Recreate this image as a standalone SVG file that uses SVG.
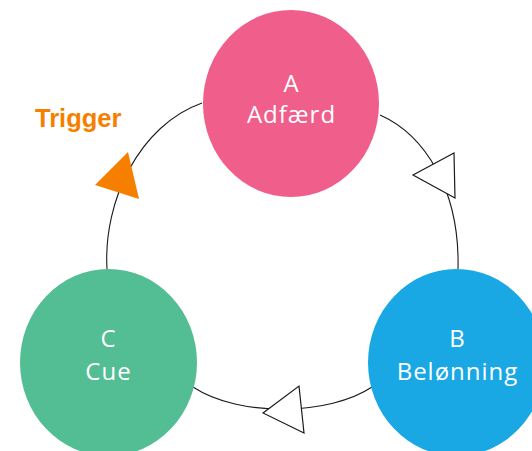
<svg xmlns="http://www.w3.org/2000/svg" width="532" height="451" viewBox="0 0 532 451">
<style>
.edge{fill:none;stroke:#1a1a1a;stroke-width:1.1}
.head{fill:#ffffff;stroke:#1a1a1a;stroke-width:1.2;stroke-linejoin:miter}
.lbl{font-family:"Open Sans","Liberation Sans",sans-serif;font-size:24px;letter-spacing:1px;fill:#ffffff;text-anchor:middle}
.trig{font-family:"Liberation Sans",Arial,sans-serif;font-weight:bold;font-size:25.5px;fill:#F77F00}
</style>
<rect width="532" height="451" fill="#ffffff"/>
<g id="connectors">
<path class="edge" d="M107,269 C103,200 140,125 202,103"/>
<path class="edge" d="M380,115 C425,135 460,190 458,269"/>
<path class="edge" d="M372,387 C330,415 240,418 193,387"/>
<polygon points="128,152 95,185 139,199" fill="#F77F00"/>
<polygon class="head" points="413,175 454,153 455,198"/>
<polygon class="head" points="263,413 299,386 304,433"/>
</g>
<g id="trigger">
<text class="trig" x="35" y="127">Trigger</text>
</g>
<g id="nodeA">
<ellipse cx="291" cy="103.5" rx="88" ry="93.5" fill="#F05E8B"/>
<text class="lbl" x="291.5" y="92">A</text>
<text class="lbl" x="291.5" y="123">Adfærd</text>
</g>
<g id="nodeB">
<ellipse cx="456.5" cy="362.5" rx="88.5" ry="93.5" fill="#19A8E4"/>
<text class="lbl" x="457.5" y="347">B</text>
<text class="lbl" x="457.5" y="380">Belønning</text>
</g>
<g id="nodeC">
<ellipse cx="108.5" cy="362.5" rx="88.5" ry="93.5" fill="#53BD93"/>
<text class="lbl" x="108.5" y="347">C</text>
<text class="lbl" x="108.5" y="380">Cue</text>
</g>
</svg>
